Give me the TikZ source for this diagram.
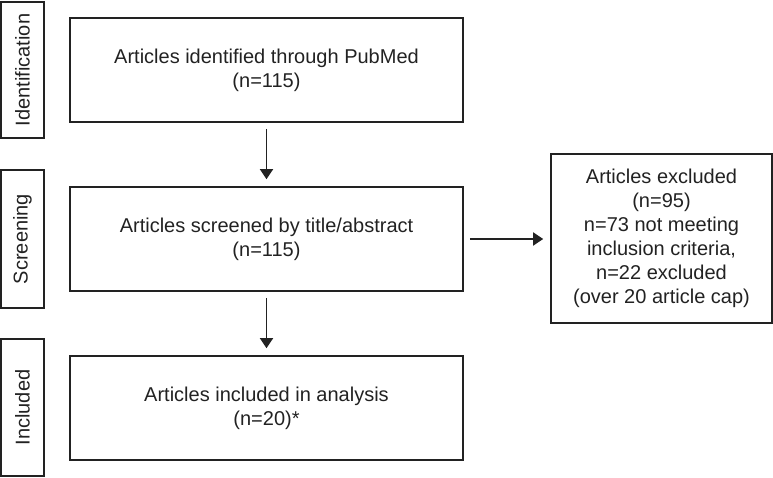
\documentclass[tikz,border=0pt]{standalone}
\usepackage{fontspec}
\setmainfont{Liberation Sans}
\usetikzlibrary{arrows.meta}
\definecolor{ink}{HTML}{222222}
\begin{document}
\begin{tikzpicture}[x=1pt,y=-1pt,
  box/.style={draw=ink,line width=1.6pt,rectangle,minimum width=393pt,minimum height=104pt,inner sep=0pt,align=center,font=\fontsize{20}{24}\selectfont,text=ink},
  sidebox/.style={draw=ink,line width=1.6pt,rectangle,rotate=90,minimum height=43pt,inner sep=0pt,font=\fontsize{20}{24}\selectfont,text=ink},
  flow/.style={draw=ink,line width=1.6pt,-{Triangle[length=10pt,width=13pt]},shorten <=6pt,shorten >=7pt}]
\useasboundingbox (0,0) rectangle (773,478);
\node[sidebox,minimum width=136pt] (sid) at (22.5,70) {Identification};
\node[sidebox,minimum width=138pt] (sscr) at (22.5,239) {Screening};
\node[sidebox,minimum width=137pt] (sinc) at (22.5,407.5) {Included};
\node[box] (b1) at (266.5,70) {Articles identified through PubMed\\(n=115)};
\node[box] (b2) at (266.5,239) {Articles screened by title/abstract\\(n=115)};
\node[box] (b3) at (266.5,408) {Articles included in analysis\\(n=20)*};
\node[box,minimum width=221pt,minimum height=169pt] (ex) at (661.5,238.5) {Articles excluded\\(n=95)\\n=73 not meeting\\inclusion criteria,\\n=22 excluded\\(over 20 article cap)};
\draw[flow] (b1) -- (b2);
\draw[flow] (b2) -- (b3);
\draw[flow] (b2.east) -- (b2.east -| ex.west);
\end{tikzpicture}
\end{document}
